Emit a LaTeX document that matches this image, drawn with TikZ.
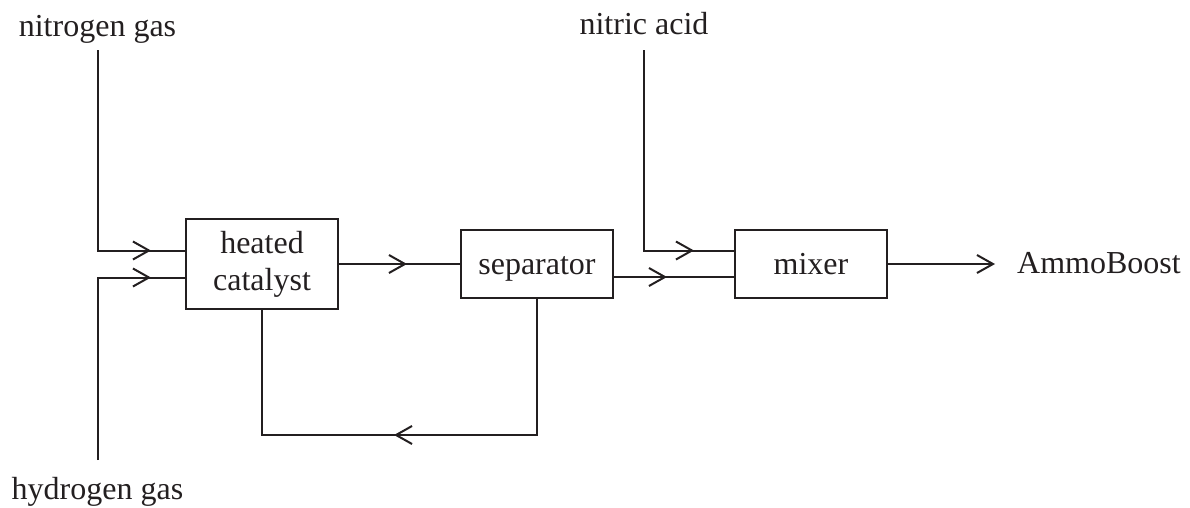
\documentclass[tikz,border=0pt]{standalone}
\usepackage{fontspec}
\setmainfont{Liberation Serif}
\usetikzlibrary{arrows.meta,decorations.markings,calc}
\definecolor{ink}{HTML}{231F20}
\tikzset{
  barb/.tip={Straight Barb[length=16pt,width=18pt]},
  flow/.style={line width=2pt, draw=ink},
  box/.style={draw=ink, line width=2pt, minimum width=152pt, inner sep=0pt,
    font=\fontsize{32}{37}\selectfont, align=center, text=ink},
  onebox/.style={box, minimum height=68pt, text height=27pt, text depth=7pt},
  lbl/.style={inner sep=0pt, font=\fontsize{32}{37}\selectfont, text=ink},
  midarrow/.style={postaction={decorate, decoration={markings,
    mark=at position #1 with {\arrow{barb}}}}},
}
\begin{document}
\begin{tikzpicture}[x=1pt,y=-1pt]
\useasboundingbox (0,0) rectangle (1190,507);
\node[box, minimum height=90pt] (hc) at (262,264) {heated\\catalyst};
\node[onebox] (sep) at (537,264) {separator};
\node[onebox] (mix) at (811,264) {mixer};
\node[lbl, anchor=base] (n2) at (97.5,36) {nitrogen gas};
\node[lbl, anchor=base] (h2) at (97.5,499) {hydrogen gas};
\node[lbl, anchor=base] (acid) at (644,34) {nitric acid};
\node[lbl, anchor=base west] (prod) at (1017,273) {AmmoBoost};
\coordinate (rec) at (262,435);

\draw[flow, midarrow=-34pt] ([yshift=-14pt]n2.base) |- ([yshift=13.5pt]hc.west);
\draw[flow, midarrow=-34pt] ([yshift=39pt]h2.base) |- ([yshift=-13.5pt]hc.west);
\draw[flow, midarrow=-53pt] (hc.east) -- (sep.west);
\draw[flow, midarrow=-67pt] ([yshift=-13pt]sep.east) -- ([yshift=-13pt]mix.west);
\draw[flow, midarrow=-40pt] ([yshift=-16pt]acid.base) |- ([yshift=13.5pt]mix.west);
\draw[flow, midarrow=279pt] (sep.south) |- (rec) -- (hc.south);
\draw[flow, -{barb}, shorten >=22pt] (mix.east) -- (mix.east -| prod.west);
\end{tikzpicture}
\end{document}
